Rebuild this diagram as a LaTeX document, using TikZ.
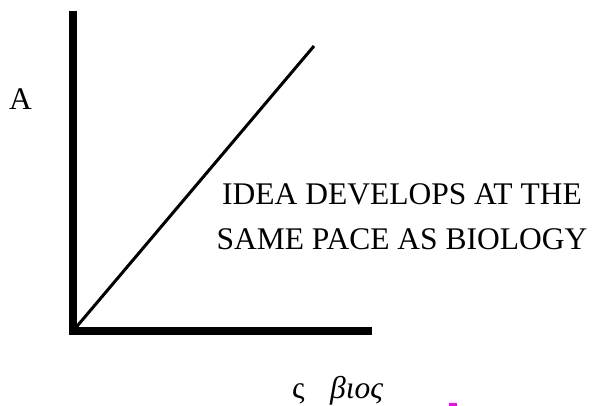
\documentclass[tikz,border=0pt]{standalone}
\usepackage{fontspec}
\setmainfont{Liberation Serif}
\usetikzlibrary{positioning}
\definecolor{smag}{RGB}{255,0,255}

\begin{document}
\begin{tikzpicture}[
  x=1pt, y=-1pt,
  axis/.style={line width=8pt, line join=miter},
  trend/.style={line width=3pt},
  lbl/.style={inner sep=0pt, font=\fontsize{31.5}{45}\selectfont},
]
  \useasboundingbox (0,0) rectangle (600,406);

  \coordinate (origin) at (73,331);
  \coordinate (ytop)   at (73,11);
  \coordinate (xend)   at (372,331);
  \coordinate (ltop)   at (314,46);

  % axes and line
  \draw[axis]  (ytop) -- (origin) -- (xend);
  \draw[trend] (origin) -- (ltop);

  \node[lbl, anchor=base west] (ylab) at (9,110) {A};
  \node[lbl, anchor=base, align=center] (note) at (402,250)
    {IDEA DEVELOPS AT THE\\SAME PACE AS BIOLOGY};
  \node[lbl, anchor=base west] (sig) at (292,398) {ς};
  \node[lbl, anchor=base west, font=\fontsize{31.5}{45}\selectfont\itshape] (bios) at (330,398) {βιος};

  % stray mark
  \fill[smag] (449,403) rectangle (457,406);
\end{tikzpicture}
\end{document}
